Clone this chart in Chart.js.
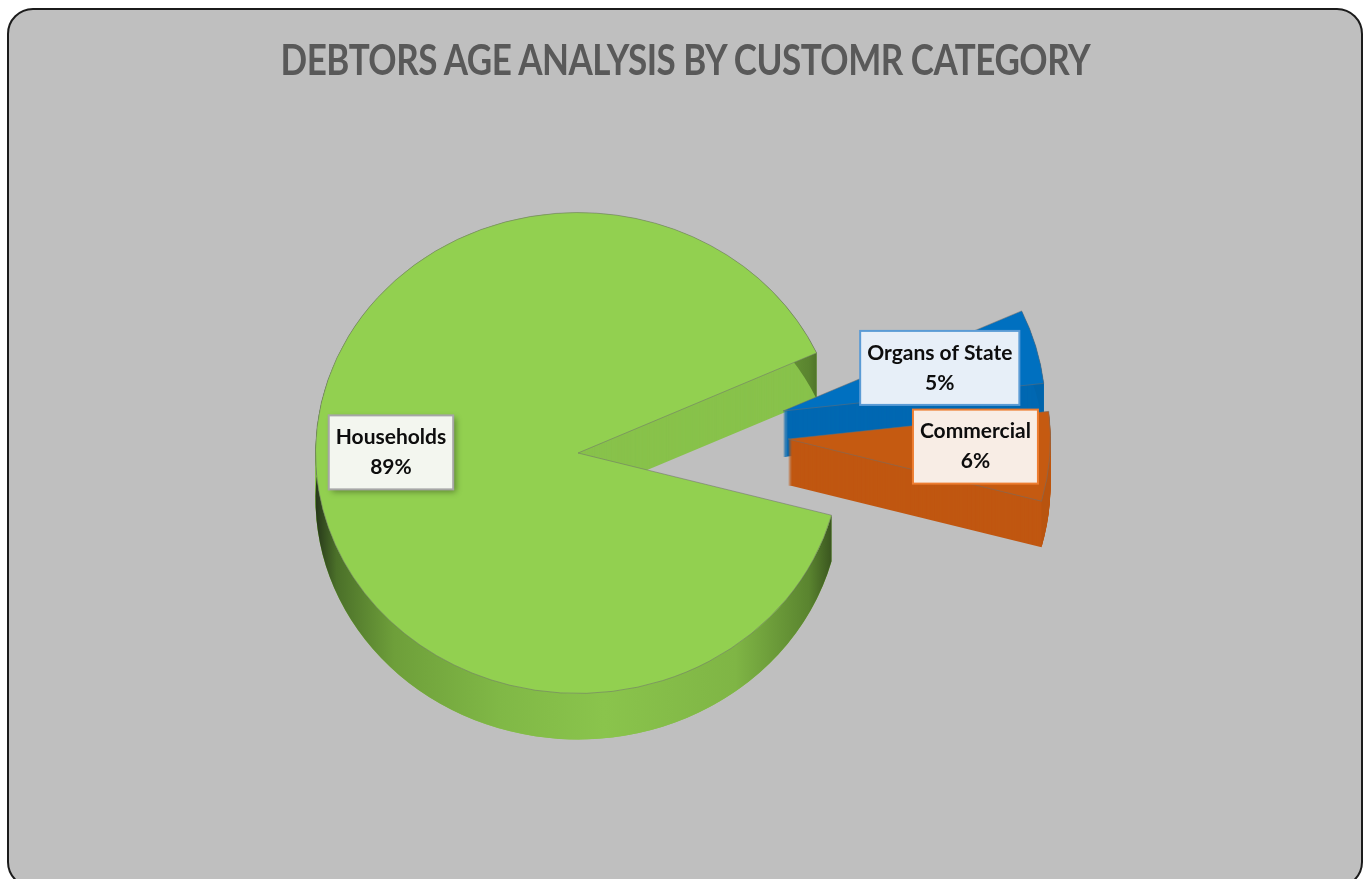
<!DOCTYPE html>
<html>
<head>
<meta charset="utf-8">
<title>Debtors Age Analysis</title>
<script src="https://cdn.jsdelivr.net/npm/chart.js@4.4.0/dist/chart.umd.min.js"></script>
<style>
  html, body { margin: 0; padding: 0; background: #fff; }
  #frame {
    position: absolute; left: 7px; top: 8px; width: 1356px; height: 880px;
    box-sizing: border-box; border: 2px solid #1b1b1b; border-radius: 26px;
    background: #bfbfbf; overflow: hidden;
  }
  #titleRow { position: absolute; left: 0; right: 0; top: 28px; text-align: center; }
  #title {
    display: inline-block; margin: 0;
    font: bold 42px/42px Lato, "Open Sans", sans-serif;
    letter-spacing: -0.6px; color: #595959; transform-origin: 50% 50%;
  }
  #wrap { position: absolute; left: 0; top: 0; width: 1352px; height: 876px; }
</style>
</head>
<body>
<div id="frame">
  <div id="wrap"><canvas id="pieChart"></canvas></div>
  <div id="titleRow"><h1 id="title">DEBTORS AGE ANALYSIS BY CUSTOMR CATEGORY</h1></div>
</div>
<script>
const categories = ['Households', 'Organs of State', 'Commercial'];
const shares = [89, 5, 6];

const sliceColors = ['#92D050', '#0070C0', '#C55A11'];
const cutColors = ['#88c24b', '#0068b2', '#c05711'];
const TILT = 0.916;   // vertical squash of the pie top
const DEPTH = 46;     // thickness of the pie, px
// how far each slice is pulled out (screen px)
const explode = [[0, 0], [205, -42], [210, -14]];
// label placement: fraction of radius, nudge x, nudge y
const labelFit = [[0.715, 0, -15], [0.62, 0, -3], [0.716, 0, -5]];
const boxStyles = [
    { fill: '#f3f6ef', stroke: '#a6a6a6', shadow: true },
    { fill: '#e7eff8', stroke: '#5b9bd5', shadow: false },
    { fill: '#f8ede5', stroke: '#ed7d31', shadow: false }
];

// squeeze the title to the width of the original (narrow font look)
const titleEl = document.getElementById('title');
const titleScale = 810 / titleEl.getBoundingClientRect().width;
titleEl.style.transform = 'scaleX(' + titleScale.toFixed(3) + ')';

function rimFill(ctx, i, x0, x1) {
    if (i === 1) return '#0064ab';
    if (i === 2) return '#b9540f';
    const g = ctx.createLinearGradient(x0, 0, x1, 0);
    g.addColorStop(0, '#26371a');
    g.addColorStop(0.04, '#4b7029');
    g.addColorStop(0.15, '#6e9f3a');
    g.addColorStop(0.35, '#80b846');
    g.addColorStop(0.55, '#8ac44c');
    g.addColorStop(0.8, '#7fb545');
    g.addColorStop(0.94, '#5a842f');
    g.addColorStop(1, '#2e4419');
    return g;
}

const pie3d = {
    id: 'pie3d',
    beforeDatasetsDraw(chart) {
        const ctx = chart.ctx;
        const arcs = chart.getDatasetMeta(0).data;
        const cx = arcs[0].x, cy = arcs[0].y;
        ctx.save();
        ctx.translate(cx, cy);
        ctx.scale(1, TILT);
        ctx.translate(-cx, -cy);
        arcs.forEach((arc, i) => {
            const [ex, ey] = explode[i];
            const r = arc.outerRadius;
            const ox = arc.x + ex;
            const oy = arc.y + ey / TILT;

            // cut faces: stack of the wedge pushed down
            ctx.fillStyle = cutColors[i];
            for (let d = DEPTH; d >= 1; d--) {
                const y = oy + d / TILT;
                ctx.beginPath();
                ctx.moveTo(ox, y);
                ctx.arc(ox, y, r, arc.startAngle, arc.endAngle);
                ctx.closePath();
                ctx.fill();
            }

            // outer rim band
            ctx.fillStyle = rimFill(ctx, i, ox - r, ox + r);
            ctx.beginPath();
            ctx.arc(ox, oy, r, arc.startAngle, arc.endAngle);
            ctx.arc(ox, oy + DEPTH / TILT, r, arc.endAngle, arc.startAngle, true);
            ctx.closePath();
            ctx.fill();

            // top face
            ctx.save();
            ctx.translate(ex, ey / TILT);
            arc.draw(ctx);
            ctx.restore();
        });
        ctx.restore();
        return false;
    },
    afterDraw(chart) {
        const ctx = chart.ctx;
        const arcs = chart.getDatasetMeta(0).data;
        const total = shares.reduce((a, b) => a + b, 0);
        ctx.save();
        ctx.font = 'bold 21px Lato, "Open Sans", sans-serif';
        ctx.textAlign = 'center';
        ctx.textBaseline = 'middle';
        arcs.forEach((arc, i) => {
            const mid = (arc.startAngle + arc.endAngle) / 2;
            const [f, nx, ny] = labelFit[i];
            const [ex, ey] = explode[i];
            const x = arc.x + ex + Math.cos(mid) * arc.outerRadius * f + nx;
            const y = arc.y + ey + Math.sin(mid) * arc.outerRadius * f * TILT + ny;
            const lines = [categories[i], Math.round(shares[i] / total * 100) + '%'];
            const w = Math.max(...lines.map(t => ctx.measureText(t).width)) + 14;
            const h = 74;
            const st = boxStyles[i];

            ctx.save();
            if (st.shadow) {
                ctx.shadowColor = 'rgba(0,0,0,0.35)';
                ctx.shadowBlur = 6;
                ctx.shadowOffsetX = 3;
                ctx.shadowOffsetY = 3;
            }
            ctx.fillStyle = st.fill;
            ctx.fillRect(x - w / 2, y - h / 2, w, h);
            ctx.restore();
            ctx.lineWidth = 2;
            ctx.strokeStyle = st.stroke;
            ctx.strokeRect(x - w / 2, y - h / 2, w, h);

            ctx.fillStyle = '#0d0d0d';
            ctx.fillText(lines[0], x, y - 15);
            ctx.fillText(lines[1], x, y + 15);
        });
        ctx.restore();
    }
};

new Chart(document.getElementById('pieChart'), {
    type: 'pie',
    data: {
        labels: categories,
        datasets: [{
            data: shares,
            backgroundColor: sliceColors,
            borderColor: 'rgba(110,110,110,0.55)',
            borderWidth: 1,
            offset: 0
        }]
    },
    options: {
        responsive: true,
        maintainAspectRatio: false,
        animation: false,
        rotation: 105,
        layout: { padding: { left: 306, right: 520, top: 100, bottom: 90 } },
        plugins: {
            legend: { display: false },
            tooltip: { enabled: false },
            title: { display: false }
        }
    },
    plugins: [pie3d]
});
</script>
</body>
</html>
